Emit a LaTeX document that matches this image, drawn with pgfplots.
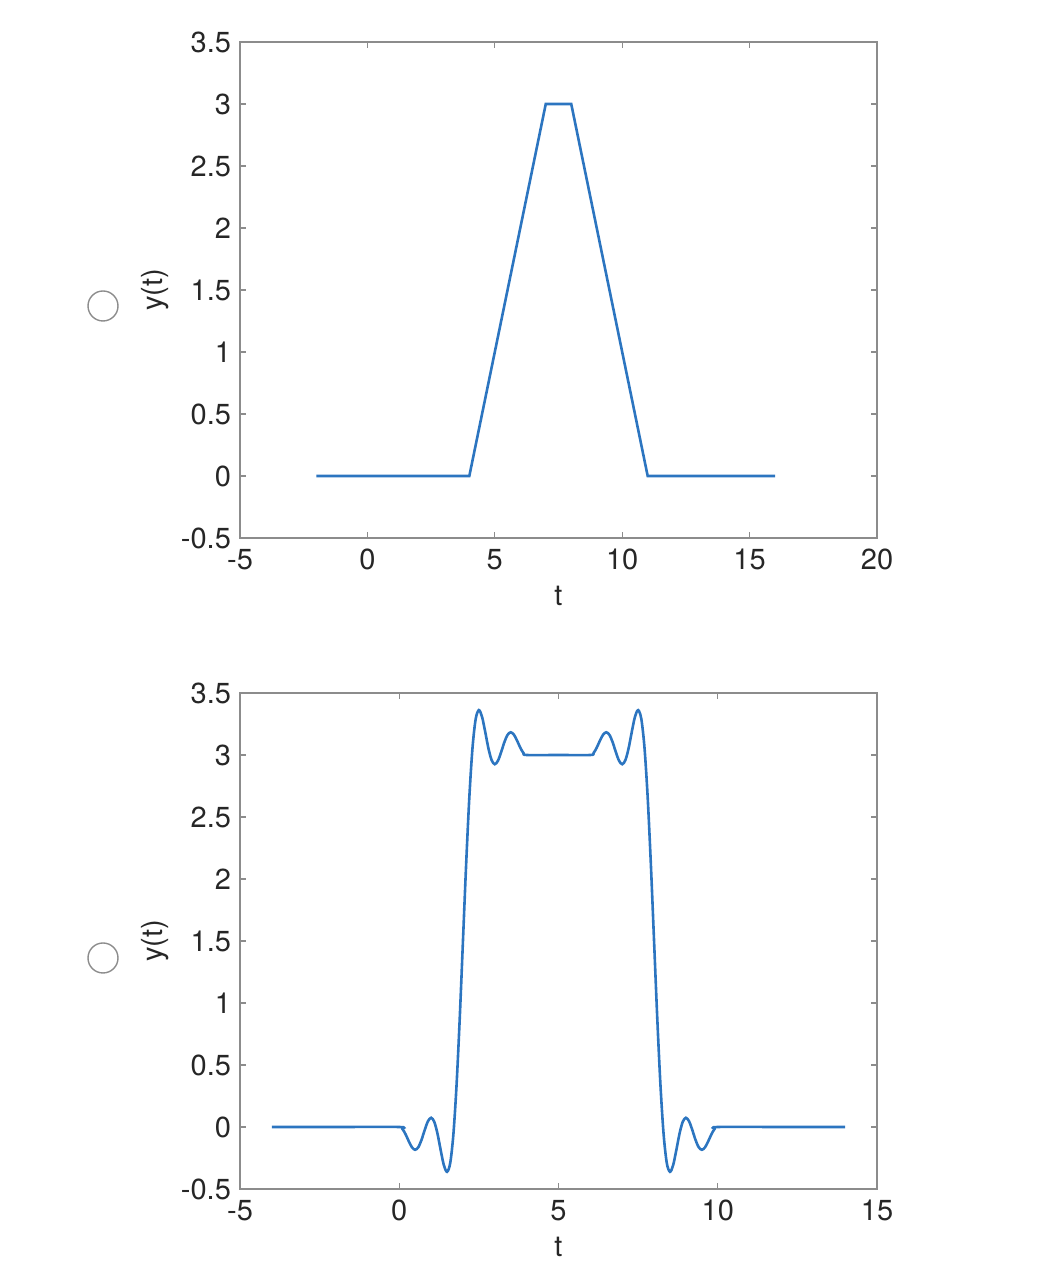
\documentclass[border=0pt]{standalone}
\usepackage{fontspec}
\setmainfont{TeX Gyre Heros}
\usepackage{pgfplots}
\pgfplotsset{compat=1.18}
\definecolor{mblue}{RGB}{44,117,192}
\definecolor{agray}{RGB}{140,140,140}
\definecolor{tgray}{RGB}{38,38,38}
\pgfplotsset{
  mystyle/.style={
    scale only axis, width=318.5pt, height=248pt,
    anchor=south west,
    axis line style={agray, line width=0.8pt},
    tick style={agray, line width=0.6pt},
    tick align=inside, major tick length=3pt,
    xtick pos=both, ytick pos=both,
    ymin=-0.5, ymax=3.5, ytick={-0.5,0,...,3.5},
    yticklabels={-0.5,0,0.5,1,1.5,2,2.5,3,3.5},
    ticklabel style={font=\fontsize{14.5}{14.5}\selectfont, text=tgray},
    label style={font=\fontsize{14.5}{14.5}\selectfont, text=tgray},
    /pgf/number format/assume math mode=true,
    xlabel={t}, ylabel={y(t)},
    xlabel style={yshift=-1pt},
    ylabel style={yshift=-1pt},
    yticklabel style={xshift=-1pt},
    xticklabel style={yshift=-2pt},
  }
}
\begin{document}
\begin{tikzpicture}
\path[use as bounding box] (0,0) rectangle (522.5pt,636.5pt);
\draw[agray, line width=0.7pt] (51.5pt,483.5pt) circle (7.5pt);
\draw[agray, line width=0.7pt] (51.5pt,157.5pt) circle (7.5pt);
\begin{axis}[mystyle, at={(120pt,367.5pt)},
  xmin=-5, xmax=20, xtick={-5,0,5,10,15,20}, xticklabels={-5,0,5,10,15,20}]
\addplot[mblue, line width=1.3pt, no marks] coordinates {(-2,0) (4,0) (7,3) (8,3) (11,0) (16,0)};
\end{axis}
\begin{axis}[mystyle, at={(120pt,42pt)},
  xmin=-5, xmax=15, xtick={-5,0,5,10,15}, xticklabels={-5,0,5,10,15}]
\addplot[mblue, line width=1.3pt, no marks, smooth, tension=0.5] coordinates {
(-4,0) (-2,0) (0,0)
(0.1,-0.0158) (0.2,-0.0592) (0.3,-0.1157) (0.4,-0.1641) (0.5,-0.1836)
(0.6,-0.1623) (0.7,-0.1028) (0.8,-0.0235) (0.9,0.0459) (1.0,0.0744)
(1.1,0.0417) (1.2,-0.0531) (1.3,-0.1851) (1.4,-0.3076) (1.5,-0.3617)
(1.6,-0.2911) (1.7,-0.0584) (1.8,0.3425) (1.9,0.8821) (2.0,1.5)
(2.1,2.1179) (2.2,2.6575) (2.3,3.0584) (2.4,3.2911) (2.5,3.3617)
(2.6,3.3076) (2.7,3.1851) (2.8,3.0531) (2.9,2.9583) (3.0,2.9256)
(3.1,2.9541) (3.2,3.0235) (3.3,3.1028) (3.4,3.1623) (3.5,3.1836)
(3.6,3.1641) (3.7,3.1157) (3.8,3.0592) (3.9,3.0158) (4.0,3.0)
(5.0,3.0) (6.0,3.0)
(6.1,3.0158) (6.2,3.0592) (6.3,3.1157) (6.4,3.1641) (6.5,3.1836)
(6.6,3.1623) (6.7,3.1028) (6.8,3.0235) (6.9,2.9541) (7.0,2.9256)
(7.1,2.9583) (7.2,3.0531) (7.3,3.1851) (7.4,3.3076) (7.5,3.3617)
(7.6,3.2911) (7.7,3.0584) (7.8,2.6575) (7.9,2.1179) (8.0,1.5)
(8.1,0.8821) (8.2,0.3425) (8.3,-0.0584) (8.4,-0.2911) (8.5,-0.3617)
(8.6,-0.3076) (8.7,-0.1851) (8.8,-0.0531) (8.9,0.0417) (9.0,0.0744)
(9.1,0.0459) (9.2,-0.0235) (9.3,-0.1028) (9.4,-0.1623) (9.5,-0.1836)
(9.6,-0.1641) (9.7,-0.1157) (9.8,-0.0592) (9.9,-0.0158) (10.0,0)
(12,0) (14,0)
};
\end{axis}
\end{tikzpicture}
\end{document}
